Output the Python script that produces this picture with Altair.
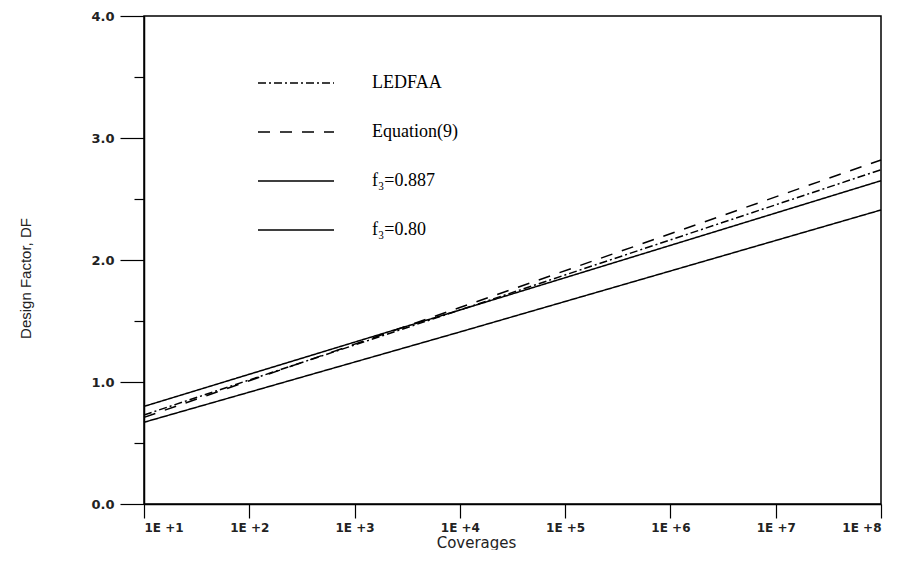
import altair as alt
import pandas as pd

# Data (log-linear lines)
coverages = [1e1, 1e4, 1e8]
ledfaa = [0.73, 1.59, 2.74]
equation9 = [0.71, 1.61, 2.82]
f3_0887 = [0.80, 1.59, 2.65]
f3_080 = [0.67, 1.41, 2.41]
series_names = ["LEDFAA", "Equation(9)", "f₃=0.887", "f₃=0.80"]
x_ticks = [1e1, 1e2, 1e3, 1e4, 1e5, 1e6, 1e7, 1e8]
y_ticks = [0, 0.5, 1, 1.5, 2, 2.5, 3, 3.5, 4]

rows = []
for name, vals in zip(series_names, [ledfaa, equation9, f3_0887, f3_080]):
    for c, v in zip(coverages, vals):
        rows.append({"series": name, "coverages": c, "df": v})
data = pd.DataFrame(rows)

chart = alt.Chart(data).mark_line(color="black", strokeWidth=1.5).encode(
    x=alt.X(
        "coverages:Q",
        scale=alt.Scale(type="log", domain=[10, 1e8], nice=False),
        axis=alt.Axis(
            values=x_ticks,
            labelExpr="'1E +' + round(log(datum.value)/LN10)",
            title="Coverages",
            grid=False,
            tickSize=14,
            tickColor="black",
            tickWidth=1.2,
            domainColor="black",
            domainWidth=1.5,
            labelFont="DejaVu Sans",
            labelFontWeight="bold",
            labelFontSize=12,
            labelColor="#222",
            labelPadding=4,
            titleFont="DejaVu Sans",
            titleFontWeight="normal",
            titleFontSize=15,
            titleColor="#222",
            titleX=332,
            titleY=31,
            titleAlign="center",
            titleBaseline="top",
        ),
    ),
    y=alt.Y(
        "df:Q",
        scale=alt.Scale(domain=[0, 4], nice=False),
        axis=alt.Axis(
            values=y_ticks,
            labelExpr="datum.value % 1 === 0 ? format(datum.value, '.1f') : ''",
            tickSize={"condition": {"test": "datum.value % 1 === 0", "value": 24}, "value": 10},
            title="Design Factor, DF",
            grid=False,
            tickColor="black",
            tickWidth=1.2,
            domainColor="black",
            domainWidth=1.5,
            labelFont="DejaVu Sans",
            labelFontWeight="bold",
            labelFontSize=13,
            labelColor="#222",
            labelPadding=6,
            titleFont="Liberation Sans",
            titleFontWeight="normal",
            titleFontSize=15,
            titleColor="#222",
            titleX=-119,
            titleY=262,
            titleAngle=270,
            titleAlign="center",
            titleBaseline="middle",
        ),
    ),
    strokeDash=alt.StrokeDash(
        "series:N",
        scale=alt.Scale(domain=series_names, range=[[8, 3, 2, 3], [12, 10], [1, 0], [1, 0]]),
        legend=alt.Legend(
            title=None,
            orient="none",
            legendX=113,
            legendY=59,
            symbolType="stroke",
            symbolSize=5776,
            symbolStrokeWidth=1.5,
            symbolStrokeColor="black",
            labelFont="Liberation Serif",
            labelFontSize=18,
            labelColor="black",
            labelOffset=37,
            clipHeight=16,
            rowPadding=31,
            padding=0,
        ),
    ),
).properties(
    width=737,
    height=488,
    autosize=alt.AutoSizeParams(type="none"),
    padding={"left": 136, "top": 8, "right": 15, "bottom": 46},
    background="white",
).configure_view(stroke="black", strokeWidth=1.5)

chart.save("out.html", embed_options={"renderer": "svg", "actions": False})
